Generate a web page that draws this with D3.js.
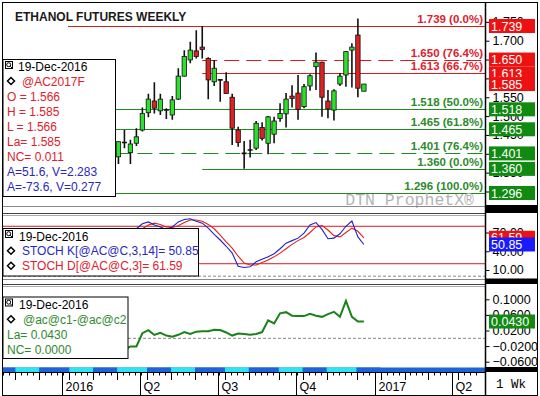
<!DOCTYPE html>
<html>
<head>
<meta charset="utf-8">
<script src="https://cdn.jsdelivr.net/npm/d3@7"></script>
<style>
  html, body { margin: 0; padding: 0; background: #fff; }
  svg { display: block; font-family: "Liberation Sans", Arial, sans-serif; }
</style>
</head>
<body>
<div id="chart"></div>
<script>
// Weekly bars, first week 7-Mar-2016, last week 19-Dec-2016
const firstWeek = "2016-03-07";
const opens  = [1.392,1.430,1.403,1.428,1.463,1.509,1.540,1.514,1.516,1.503,1.545,1.606,1.649,1.673,1.683,1.653,1.591,1.596,1.591,1.550,1.463,1.401,1.410,1.415,1.470,1.428,1.452,1.494,1.506,1.553,1.561,1.525,1.580,1.631,1.643,1.540,1.516,1.585,1.609,1.675,1.715,1.566];
const highs  = [1.433,1.463,1.437,1.468,1.523,1.559,1.590,1.559,1.521,1.553,1.627,1.675,1.697,1.728,1.739,1.656,1.649,1.598,1.616,1.559,1.472,1.434,1.437,1.487,1.484,1.500,1.498,1.534,1.561,1.582,1.609,1.585,1.611,1.669,1.644,1.569,1.571,1.614,1.673,1.693,1.759,1.585];
const lows   = [1.373,1.415,1.373,1.421,1.459,1.497,1.507,1.503,1.492,1.490,1.543,1.605,1.640,1.653,1.653,1.545,1.580,1.538,1.559,1.423,1.419,1.360,1.390,1.410,1.435,1.399,1.428,1.485,1.470,1.523,1.490,1.521,1.567,1.569,1.498,1.494,1.488,1.580,1.578,1.576,1.550,1.566];
const closes = [1.432,1.430,1.426,1.445,1.507,1.545,1.521,1.545,1.516,1.543,1.606,1.658,1.675,1.658,1.677,1.596,1.627,1.596,1.560,1.468,1.430,1.401,1.410,1.481,1.441,1.498,1.487,1.507,1.545,1.547,1.518,1.578,1.607,1.643,1.550,1.519,1.567,1.606,1.671,1.683,1.574,1.585];

// Stochastic %K / %D
const stochK = [50,60,68,76,84,87,82,79,75,79,87,91,92,88,85,77,67,58,48,37,16,14,15,23,27,31,36,44,53,57,61,69,82,86,75,60,61,68,80,88.5,63,50.85];
const stochD = [45,52,60,68,76,82,85,83,79,78,81,86,90,90,88,83,76,66,55,45,32,21,18,18,22,26,31,37,44,51,57,62,70,79,81,74,65,63,70,77,72,61.59];

// Spread @ac@c1-@ac@c2
const spread = [-0.035,-0.030,-0.021,-0.021,0.013,0.021,0.0085,0.014,0.007,0.004,0.009,0.016,0.011,0.017,0.018,0.018,0.022,0.021,0.015,0.007,0.012,0.011,0.009,0.011,0.016,0.046,0.038,0.064,0.067,0.058,0.057,0.057,0.063,0.058,0.055,0.062,0.068,0.055,0.096,0.055,0.043,0.043];

// Retracement levels
const levelValues = [1.739, 1.650, 1.613, 1.518, 1.465, 1.401, 1.360, 1.296];
const levelPcts   = ["0.0%", "76.4%", "66.7%", "50.0%", "61.8%", "76.4%", "0.0%", "100.0%"];
const levelStarts = ["2016-01-08", "2016-06-13", "2016-06-13", "2015-10-01", "2015-10-01", "2015-10-01", "2016-06-13", "2015-10-01"];

// Axis ticks
const priceTicks = [1.30, 1.35, 1.40, 1.45, 1.50, 1.55, 1.60, 1.65, 1.70, 1.75];
const stochTicks = [10, 40, 70];
const stochBands = [20, 80];
const spreadTicks = [-0.06, -0.02, 0.02, 0.06, 0.10];

const cursorText = ["A=51.6, V=2.283", "A=-73.6, V=0.277"];

const W = 540, H = 396;
const X0 = 3, X1 = 485.5;
const p1 = { top: 3, bottom: 206 };
const p2 = { top: 213, bottom: 279 };
const p3 = { top: 285, bottom: 367 };

const RED = "#d81c1c", GREEN = "#1e8c1e", BLUE = "#2828c0";
const TXT_RED = "#e0202c", TXT_GREEN = "#2d8a2d";

const parse = d3.timeParse("%Y-%m-%d");
const weeks = opens.map((_, i) => d3.timeWeek.offset(parse(firstWeek), i));
const lastClose = closes[closes.length - 1];
const n = closes.length;

const svg = d3.select("#chart").append("svg")
  .attr("width", W)
  .attr("height", H);

svg.append("rect").attr("width", W).attr("height", H).attr("fill", "#fff");

// Scales
const x = d3.scaleTime()
  .domain([new Date(2016, 0, 1), new Date(2017, 0, 1)])
  .range([62, 375]);
const yP = d3.scaleLinear().domain([1.296, 1.739]).range([193, 26]);
const yS = d3.scaleLinear().domain([0, 100]).range([276.2, 213.8]);
const yD = d3.scaleLinear().domain([-0.06, 0.10]).range([361.7, 299.3]);

// clip paths for each panel
const defs = svg.append("defs");
[p1, p2, p3].forEach((p, i) => {
  defs.append("clipPath").attr("id", "clip" + i)
    .append("rect")
    .attr("x", X0).attr("y", p.top)
    .attr("width", X1 - X0).attr("height", p.bottom - p.top);
});

// ---------- Panel 1: price ----------
const g1 = svg.append("g").attr("clip-path", "url(#clip0)");

levelValues.forEach((v, i) => {
  const col = v > lastClose ? RED : GREEN;
  g1.append("line")
    .attr("x1", x(parse(levelStarts[i]))).attr("x2", X1)
    .attr("y1", Math.round(yP(v)) + 0.5).attr("y2", Math.round(yP(v)) + 0.5)
    .attr("stroke", col)
    .attr("stroke-width", 1)
    .attr("stroke-dasharray", levelPcts[i] === "76.4%" ? "15,7" : null);
});

// candles
const candle = g1.selectAll("g.candle")
  .data(weeks)
  .join("g")
  .attr("class", "candle");

candle.append("line")
  .attr("x1", d => x(d)).attr("x2", d => x(d))
  .attr("y1", (d, i) => yP(highs[i]))
  .attr("y2", (d, i) => yP(lows[i]))
  .attr("stroke", "#111")
  .attr("stroke-width", 1.6);

candle.each(function(d, i) {
  const g = d3.select(this);
  const o = opens[i], c = closes[i];
  if (Math.abs(o - c) < 0.002) {
    g.append("line")
      .attr("x1", x(d) - 2.5).attr("x2", x(d) + 2.5)
      .attr("y1", yP(c)).attr("y2", yP(c))
      .attr("stroke", "#111").attr("stroke-width", 1.6);
  } else {
    g.append("rect")
      .attr("x", x(d) - 2.2)
      .attr("width", 4.4)
      .attr("y", yP(Math.max(o, c)))
      .attr("height", Math.abs(yP(o) - yP(c)))
      .attr("fill", c > o ? "#2ee02e" : "#dd2222")
      .attr("stroke", "#111")
      .attr("stroke-width", 0.8);
  }
});

// level labels
levelValues.forEach((v, i) => {
  svg.append("text")
    .attr("x", 483)
    .attr("y", yP(v) - 3)
    .attr("text-anchor", "end")
    .attr("font-size", 11.5)
    .attr("font-weight", "bold")
    .attr("fill", v > lastClose ? TXT_RED : TXT_GREEN)
    .text(`${v.toFixed(3)} (${levelPcts[i]})`);
});

// title and watermark
svg.append("text")
  .attr("x", 15).attr("y", 20.5)
  .attr("font-size", 12).attr("font-weight", "bold")
  .attr("fill", "#1a1a1a")
  .text("ETHANOL FUTURES WEEKLY");

svg.append("text")
  .attr("x", 474).attr("y", 205)
  .attr("text-anchor", "end")
  .attr("font-family", "'Liberation Mono', 'Courier New', monospace")
  .attr("font-size", 16.5)
  .attr("fill", "#b4b4b4")
  .text("DTN ProphetX®");

// legend helpers
function legendBox(x0, y0, w, h) {
  svg.append("rect")
    .attr("x", x0 + 0.5).attr("y", y0 + 0.5)
    .attr("width", w).attr("height", h)
    .attr("fill", "#fff").attr("stroke", "#000");
  // small magnifier icon
  svg.append("rect").attr("x", 5.5).attr("y", y0 + 2.5).attr("width", 7).attr("height", 7)
    .attr("fill", "#fff").attr("stroke", "#000");
  svg.append("circle").attr("cx", 8.7).attr("cy", y0 + 5.7).attr("r", 2)
    .attr("fill", "none").attr("stroke", "#000");
  svg.append("line").attr("x1", 10.2).attr("y1", y0 + 7.2).attr("x2", 12).attr("y2", y0 + 9)
    .attr("stroke", "#000");
}
function diamond(cx, cy) {
  svg.append("path")
    .attr("d", `M${cx},${cy - 3.5}L${cx + 3.5},${cy}L${cx},${cy + 3.5}L${cx - 3.5},${cy}Z`)
    .attr("fill", "#fff").attr("stroke", "#000").attr("stroke-width", 1.5);
}
function legendText(xx, yy, color, txt) {
  svg.append("text").attr("x", xx).attr("y", yy)
    .attr("font-size", 12).attr("fill", color).text(txt);
}

const f3 = d3.format(".3f");
legendBox(2.5, 59, 112.5, 137);
legendText(18, 70.5, "#000", "19-Dec-2016");
diamond(11, 81);
legendText(22, 85.5, TXT_RED, "@AC2017F");
legendText(7, 101, TXT_RED, "O = " + f3(opens[n - 1]));
legendText(7, 115.5, TXT_RED, "H = " + f3(highs[n - 1]));
legendText(7, 130.5, TXT_RED, "L = " + f3(lows[n - 1]));
legendText(7, 145.5, TXT_RED, "La= " + f3(closes[n - 1]));
legendText(7, 161, TXT_RED, "NC= " + f3(closes[n - 1] - closes[n - 2]));
legendText(7, 176, BLUE, cursorText[0]);
legendText(7, 190.5, BLUE, cursorText[1]);

// ---------- Panel 2: stochastics ----------
const g2 = svg.append("g").attr("clip-path", "url(#clip1)");
stochBands.forEach(v => {
  g2.append("line").attr("x1", X0).attr("x2", X1)
    .attr("y1", yS(v)).attr("y2", yS(v))
    .attr("stroke", RED).attr("stroke-width", 1);
});
g2.append("line").attr("x1", X0).attr("x2", X1)
  .attr("y1", yS(0)).attr("y2", yS(0))
  .attr("stroke", "#888").attr("stroke-dasharray", "3,2");

const lineS = d3.line().x((d, i) => x(weeks[i])).y(d => yS(d));
g2.append("path").datum(stochD).attr("d", lineS)
  .attr("fill", "none").attr("stroke", "#dd2222").attr("stroke-width", 1.1);
g2.append("path").datum(stochK).attr("d", lineS)
  .attr("fill", "none").attr("stroke", "#2020c8").attr("stroke-width", 1.1);

const f2 = d3.format(".2f");
legendBox(2.5, 228, 195.5, 47.5);
legendText(19, 240.5, "#000", "19-Dec-2016");
diamond(11, 250.7);
legendText(22, 255, BLUE, `STOCH K[@AC@C,3,14]= ${f2(stochK[n - 1])}`);
diamond(11, 265.7);
legendText(22, 270, TXT_RED, `STOCH D[@AC@C,3]= ${f2(stochD[n - 1])}`);

// ---------- Panel 3: spread ----------
const g3 = svg.append("g").attr("clip-path", "url(#clip2)");
g3.append("line").attr("x1", X0).attr("x2", X1)
  .attr("y1", yD(0)).attr("y2", yD(0))
  .attr("stroke", "#888").attr("stroke-dasharray", "3,2");
g3.append("path").datum(spread)
  .attr("d", d3.line().x((d, i) => x(weeks[i])).y(d => yD(d)))
  .attr("fill", "none").attr("stroke", "#1a821a").attr("stroke-width", 2);

const f4 = d3.format(".4f");
legendBox(2.5, 296.5, 125, 61.5);
legendText(19, 308.5, "#000", "19-Dec-2016");
diamond(11, 319.3);
legendText(23, 323.5, TXT_GREEN, "@ac@c1-@ac@c2");
legendText(7, 338.5, TXT_GREEN, "La= " + f4(spread[n - 1]));
legendText(7, 353.5, TXT_GREEN, "NC= " + f4(spread[n - 1] - spread[n - 2]));

// ---------- Right axes ----------
function rightAxis(scale, ticks, fmt) {
  svg.append("g")
    .attr("transform", `translate(${X1},0)`)
    .call(d3.axisRight(scale).tickValues(ticks).tickSize(4).tickPadding(3).tickFormat(fmt))
    .call(g => g.select(".domain").remove())
    .call(g => g.selectAll("text")
      .attr("font-size", 12.5)
      .attr("font-family", "'Liberation Sans', Arial, sans-serif")
      .attr("fill", "#000"));
}
rightAxis(yP, priceTicks, d3.format(".3f"));
rightAxis(yS, stochTicks, d3.format(".2f"));
rightAxis(yD, spreadTicks, d3.format(".4f"));

function valueBox(yy, fill, txt) {
  svg.append("rect")
    .attr("x", 489).attr("y", yy - 7)
    .attr("width", 46).attr("height", 14)
    .attr("fill", fill);
  svg.append("text")
    .attr("x", 491).attr("y", yy + 4.5)
    .attr("font-size", 12.5).attr("fill", "#fff")
    .text(txt);
}
const boxValues = levelValues.concat([lastClose]).sort((a, b) => b - a);
boxValues.forEach(v => valueBox(yP(v), v >= lastClose ? "#ee1111" : "#118a11", f3(v)));
valueBox(yS(stochD[n - 1]), "#ee1111", f2(stochD[n - 1]));
valueBox(yS(stochK[n - 1]), "#1a1aff", f2(stochK[n - 1]));
valueBox(yD(spread[n - 1]), "#118a11", f4(spread[n - 1]));

// ---------- Time bar and date axis ----------
const months = d3.timeMonth.range(new Date(2015, 9, 1), new Date(2017, 0, 1));
const mEdge = m => x(d3.timeWednesday.ceil(m)) + 3;
svg.append("rect").attr("x", X0).attr("y", 367.5).attr("width", X1 - X0).attr("height", 4.5)
  .attr("fill", "#1e64d8");
months.forEach(m => {
  const x0 = Math.max(X0, mEdge(m));
  const x1 = mEdge(d3.timeMonth.offset(m, 1));
  svg.append("rect")
    .attr("x", x0).attr("y", 367.5)
    .attr("width", x1 - x0).attr("height", 4.5)
    .attr("fill", m.getMonth() % 2 === 0 ? "#2ee4f2" : "#1e64d8");
});
svg.append("line").attr("x1", X0).attr("x2", X1).attr("y1", 372.5).attr("y2", 372.5)
  .attr("stroke", "#000");

const axisG = svg.append("g");
d3.timeWednesday.range(new Date(2015, 9, 1), new Date(2017, 4, 1)).forEach(w => {
  const xx = Math.round(x(w) + 3) + 0.5;
  if (xx < X0 || xx > X1) return;
  axisG.append("line").attr("x1", xx).attr("x2", xx).attr("y1", 372).attr("y2", 375.5)
    .attr("stroke", "#000");
});
d3.timeMonth.range(new Date(2015, 9, 1), new Date(2017, 4, 1)).forEach(m => {
  const xx = Math.round(mEdge(m)) + 0.5;
  if (xx < X0 || xx > X1) return;
  axisG.append("line").attr("x1", xx).attr("x2", xx).attr("y1", 372).attr("y2", 380)
    .attr("stroke", "#000");
});
d3.timeMonth.every(3).range(new Date(2016, 0, 1), new Date(2017, 4, 1)).forEach(q => {
  const xx = Math.round(x(q)) + 0.5;
  axisG.append("line").attr("x1", xx).attr("x2", xx).attr("y1", 372).attr("y2", 396)
    .attr("stroke", "#000");
  axisG.append("text")
    .attr("x", xx + 3).attr("y", 391)
    .attr("font-size", 12.5).attr("fill", "#000")
    .text(q.getMonth() === 0 ? q.getFullYear() : "Q" + (q.getMonth() / 3 + 1));
});

// ---------- Frame and separators ----------
svg.append("rect").attr("x", 486).attr("y", 205).attr("width", 52).attr("height", 8).attr("fill", "#000");
svg.append("rect").attr("x", 486).attr("y", 278.5).attr("width", 52).attr("height", 5.5).attr("fill", "#000");
svg.append("rect").attr("x", 486).attr("y", 367).attr("width", 52).attr("height", 5).attr("fill", "#000");

[[206.5, "#8a8a8a"], [213.5, "#444"], [215.5, "#aaa"],
 [279.5, "#8a8a8a"], [284.5, "#444"], [286.5, "#aaa"]].forEach(([yy, c]) => {
  svg.append("line").attr("x1", X0).attr("x2", X1).attr("y1", yy).attr("y2", yy)
    .attr("stroke", c);
});

svg.append("line").attr("x1", X1).attr("x2", X1).attr("y1", 3).attr("y2", 396)
  .attr("stroke", "#000").attr("stroke-width", 1.5);

svg.append("text")
  .attr("x", 511).attr("y", 388)
  .attr("text-anchor", "middle")
  .attr("font-family", "'Liberation Mono', 'Courier New', monospace")
  .attr("font-size", 12.5).attr("fill", "#000")
  .text("1 Wk");

svg.append("rect").attr("x", 2.5).attr("y", 2.5).attr("width", 535).attr("height", 393)
  .attr("fill", "none").attr("stroke", "#000");
</script>
</body>
</html>
